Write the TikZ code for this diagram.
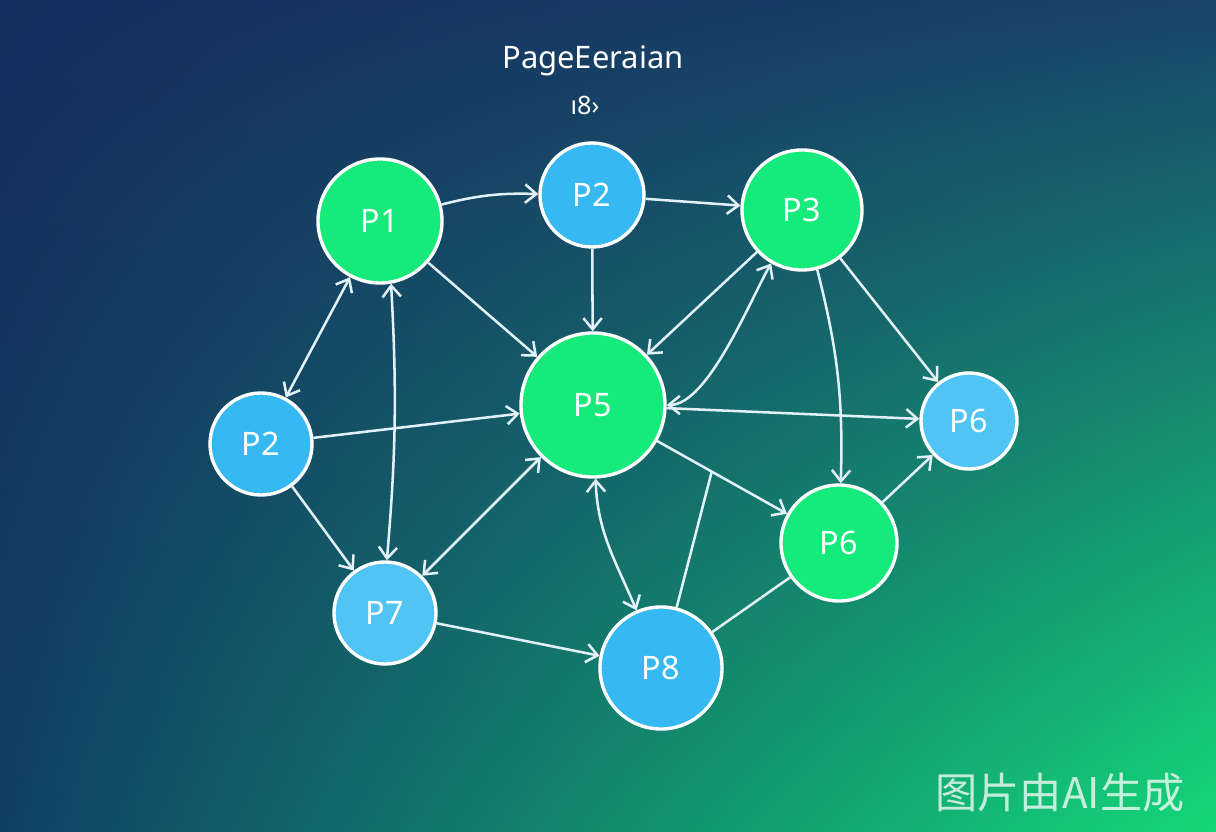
\documentclass[tikz,border=0pt]{standalone}
\usepackage{fontspec}
\setmainfont{Noto Sans}
\newfontfamily\cjkfont{Noto Sans CJK SC}
\usetikzlibrary{arrows.meta, shadings}
\usetikzlibrary{positioning}

\definecolor{bgtl}{RGB}{22,44,94}
\definecolor{bgtr}{RGB}{24,68,106}
\definecolor{bgbl}{RGB}{16,64,100}
\definecolor{bgbr}{RGB}{20,216,120}
\definecolor{pagegreen}{RGB}{22,234,122}
\definecolor{pageblue}{RGB}{54,184,242}
\definecolor{pagesky}{RGB}{80,196,243}
\definecolor{linkcol}{RGB}{226,240,248}

\tikzstyle{page}      = [circle, draw=white, line width=2.4pt, text=white, inner sep=0pt, font=\fontsize{23}{27}\selectfont]
\tikzstyle{pgreen}    = [page, fill=pagegreen]
\tikzstyle{pblue}     = [page, fill=pageblue]
\tikzstyle{psky}      = [page, fill=pagesky]
\tikzstyle{link}      = [line width=1.8pt, draw=linkcol]
\tikzstyle{arrow}     = [link, ->, >={Straight Barb[length=2.8mm,width=4.6mm]}]
\tikzstyle{dual}      = [link, <->, >={Straight Barb[length=2.8mm,width=4.6mm]}]

\begin{document}
\begin{tikzpicture}[x=0.025cm, y=0.025cm]
      % Background
      \useasboundingbox (0,0) rectangle (1216,-832);
      \shade[upper left=bgtl, upper right=bgtr, lower left=bgbl, lower right=bgbr] (0,0) rectangle (1216,-832);

      % Title
      \node[text=white, font=\fontsize{22}{26}\selectfont] (title) at (593,-61) {PageEeraian};
      \node[text=white, font=\fontsize{18}{20}\selectfont] (subtitle) at (585,-105) {ı8›};

      % Pages
      \node[pgreen, minimum size=3.1cm]  (p1)  at (380,-221) {P1};
      \node[pblue,  minimum size=2.6cm]  (p2t) at (592,-195) {P2};
      \node[pgreen, minimum size=3.0cm]  (p3)  at (802,-210) {P3};
      \node[pgreen, minimum size=3.6cm]  (p5)  at (593,-405) {P5};
      \node[pblue,  minimum size=2.55cm] (p2l) at (261,-444) {P2};
      \node[psky,   minimum size=2.4cm]  (p6r) at (969,-421) {P6};
      \node[pgreen, minimum size=2.9cm]  (p6g) at (839,-543) {P6};
      \node[psky,   minimum size=2.55cm] (p7)  at (385,-613) {P7};
      \node[pblue,  minimum size=3.05cm] (p8)  at (661,-668) {P8};

      % Links
      \draw[arrow, bend left=8] (p1) to (p2t);
      \draw[arrow] (p2t) -- (p3);
      \draw[arrow] (p2t) -- (p5);
      \draw[arrow] (p1) -- (p5);
      \draw[arrow] (p3) -- (p5);
      \draw[dual] (p5.east) to[out=0, in=240, looseness=0.6] (p3);
      \draw[arrow] (p5) -- (p6r);
      \draw[arrow] (p3) -- (p6r);
      \draw[arrow, bend left=8] (p3) to (p6g);
      \draw[arrow] (p5) -- (p6g);
      \draw[arrow] (p6g) -- (p6r);
      \draw[link] (p6g) -- (p8);
      \path (p5) -- (p6g) coordinate[pos=0.42] (fork);
      \draw[link] (p8) -- (fork);
      \draw[dual] (p5) to[out=-88, in=113] (p8);
      \draw[arrow] (p7) -- (p8);
      \draw[dual] (p5) -- (p7);
      \draw[dual, bend left=4] (p1.-80) to (p7.88);
      \draw[dual] (p1) -- (p2l);
      \draw[arrow] (p2l) -- (p5);
      \draw[arrow] (p2l) -- (p7);

      % Watermark
      \node[text=white, opacity=0.75, font=\cjkfont\fontsize{30}{34}\selectfont] (mark) at (1060,-793) {图片由AI生成};
\end{tikzpicture}
\end{document}
